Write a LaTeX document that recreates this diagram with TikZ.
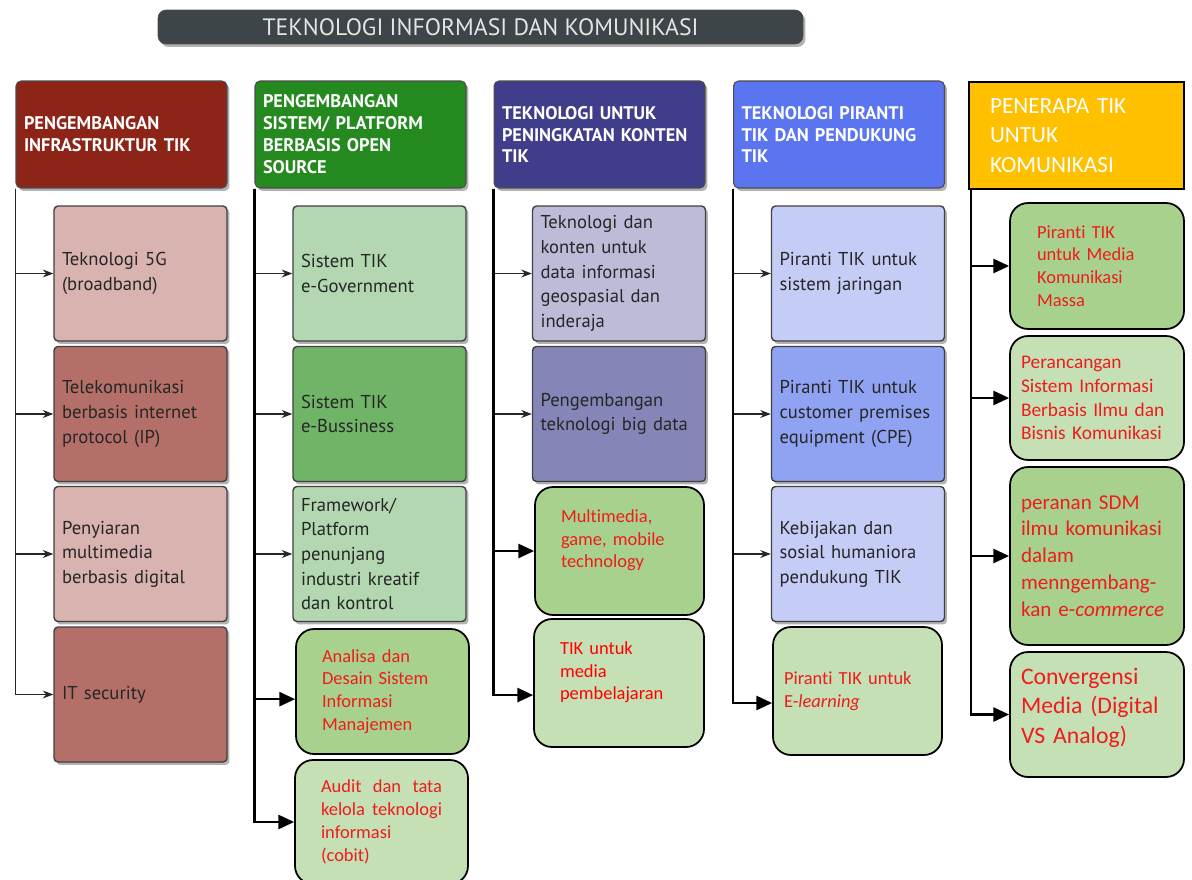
\documentclass[tikz,border=0pt]{standalone}
\usepackage{fontspec}
\setmainfont{PT Sans}
\newfontfamily\calfont[Ligatures=NoCommon]{Carlito}
\usepackage{tikz}
\usetikzlibrary{arrows.meta, shadows}

\definecolor{titlegray}{HTML}{3D4548}
\definecolor{headred}{HTML}{8C2518}
\definecolor{headgreen}{HTML}{24891E}
\definecolor{headindigo}{HTML}{403E8A}
\definecolor{headblue}{HTML}{5A75EF}
\definecolor{headgold}{HTML}{FFC000}
\definecolor{redlight}{HTML}{D8B3B0}
\definecolor{reddark}{HTML}{B47068}
\definecolor{greenlight}{HTML}{B3D7B0}
\definecolor{greendark}{HTML}{70B467}
\definecolor{indigolight}{HTML}{BCBCD9}
\definecolor{indigodark}{HTML}{8585B8}
\definecolor{bluelight}{HTML}{C5CCF6}
\definecolor{bluedark}{HTML}{90A2F2}
\definecolor{notedark}{HTML}{A9D18E}
\definecolor{notelight}{HTML}{C5E0B4}
\definecolor{notetext}{HTML}{EE1C1C}

\begin{document}
\begin{tikzpicture}[x=0.02cm, y=-0.02cm,
    banner/.style={rounded corners=0.16cm, draw=black!70, fill=titlegray, minimum width=12.9cm, minimum height=0.68cm,
      text=white!90!black, font=\fontsize{13.5}{15}\selectfont,
      drop shadow={shadow xshift=0.05cm, shadow yshift=-0.06cm, opacity=0.3, fill=black}},
    head/.style={rounded corners=0.1cm, draw=black!70, line width=0.6pt, minimum width=4.22cm, minimum height=2.14cm,
      text width=3.9cm, inner xsep=0.16cm, align=left, text=white, font=\bfseries\fontsize{10.4}{12.5}\selectfont,
      drop shadow={shadow xshift=0.05cm, shadow yshift=-0.06cm, opacity=0.3, fill=black}},
    item/.style={rounded corners=0.08cm, draw=black!75, line width=0.8pt, minimum width=3.46cm, minimum height=2.7cm,
      text width=3.14cm, inner xsep=0.16cm, inner ysep=1pt, align=left, text=black!85, font=\fontsize{10.6}{14}\selectfont,
      drop shadow={shadow xshift=0.05cm, shadow yshift=-0.06cm, opacity=0.3, fill=black}},
    note/.style={rounded corners=0.36cm, draw=black, line width=1pt, inner ysep=1pt, align=left, text=notetext,
      font=\calfont\fontsize{10.5}{13}\selectfont},
    link/.style={draw=black!85, line width=0.8pt, -{Stealth[length=6pt,width=4.5pt]}},
    bigarrow/.style={draw=black, line width=1.4pt, -{Triangle[length=9pt,width=8pt]}}]

\useasboundingbox (0,0) rectangle (1192,879);

\node (title) [banner] at (480.5,27) {TEKNOLOGI INFORMASI DAN KOMUNIKASI};

\node (h1) [head, fill=headred] at (121.5,134.5) {PENGEMBANGAN\\INFRASTRUKTUR TIK};
\node (h2) [head, fill=headgreen] at (360.5,134.5) {PENGEMBANGAN\\SISTEM/ PLATFORM\\BERBASIS OPEN\\SOURCE};
\node (h3) [head, fill=headindigo] at (599.5,134.5) {TEKNOLOGI UNTUK\\PENINGKATAN KONTEN\\TIK};
\node (h4) [head, fill=headblue] at (839,134.5) {TEKNOLOGI PIRANTI\\TIK DAN PENDUKUNG\\TIK};
\node (h5) [draw=black, line width=1.1pt, fill=headgold, minimum width=4.3cm, minimum height=2.14cm, text width=3.46cm,
  inner xsep=0.42cm, align=left, text=white, font=\calfont\fontsize{13.2}{16.8}\selectfont] at (1076.5,135.5)
  {PENERAPA TIK\\UNTUK\\KOMUNIKASI};

\node (c11) [item, fill=redlight] at (140.5,273.5) {Teknologi 5G\\(broadband)};
\node (c12) [item, fill=reddark] at (140.5,414) {Telekomunikasi\\berbasis internet\\protocol (IP)};
\node (c13) [item, fill=redlight] at (140.5,554) {Penyiaran\\multimedia\\berbasis digital};
\node (c14) [item, fill=reddark] at (140.5,694.5) {IT security};

\node (c21) [item, fill=greenlight] at (379.5,273.5) {Sistem TIK\\e-Government};
\node (c22) [item, fill=greendark] at (379.5,414) {Sistem TIK\\e-Bussiness};
\node (c23) [item, fill=greenlight] at (379.5,554) {Framework/\\Platform\\penunjang\\industri kreatif\\dan kontrol};
\node (n21) [note, fill=notedark, minimum width=3.46cm, minimum height=2.5cm, text width=2.42cm, inner xsep=0.52cm]
  at (382.5,691.5) {Analisa dan\\Desain Sistem\\Informasi\\Manajemen};
\node (n22) [note, fill=notelight, minimum width=3.46cm, minimum height=2.48cm, text width=2.42cm, inner xsep=0.52cm, align=justify]
  at (381.5,822) {Audit dan tata kelola teknologi informasi\\(cobit)};

\node (c31) [item, fill=indigolight] at (619,273.5) {Teknologi dan\\konten untuk\\data informasi\\geospasial dan\\inderaja};
\node (c32) [item, fill=indigodark] at (619,414) {Pengembangan\\teknologi big data};
\node (n31) [note, fill=notedark, minimum width=3.38cm, minimum height=2.56cm, text width=2.34cm, inner xsep=0.52cm, text depth=40pt]
  at (619.5,551) {Multimedia,\\game, mobile\\technology};
\node (n32) [note, fill=notelight, minimum width=3.4cm, minimum height=2.56cm, text width=2.36cm, inner xsep=0.52cm, text depth=40pt,
  text=red] at (619,683) {TIK untuk\\media\\pembelajaran};

\node (c41) [item, fill=bluelight] at (858,273.5) {Piranti TIK untuk\\sistem jaringan};
\node (c42) [item, fill=bluedark] at (858,414) {Piranti TIK untuk\\customer premises\\equipment (CPE)};
\node (c43) [item, fill=bluelight] at (858,554) {Kebijakan dan\\sosial humaniora\\pendukung TIK};
\node (n41) [note, fill=notelight, minimum width=3.38cm, minimum height=2.56cm, text width=2.94cm, inner xsep=0.22cm]
  at (857.5,691) {Piranti TIK untuk\\E-\textit{learning}};

\node (n51) [note, fill=notedark, minimum width=3.48cm, minimum height=2.52cm, text width=2.4cm, inner xsep=0.54cm]
  at (1097,266) {Piranti TIK\\untuk Media\\Komunikasi\\Massa};
\node (n52) [note, fill=notelight, minimum width=3.48cm, minimum height=2.48cm, text width=3.04cm, inner xsep=0.22cm,
  font=\calfont\fontsize{11}{13.6}\selectfont] at (1097,398) {Perancangan\\Sistem Informasi\\Berbasis Ilmu dan\\Bisnis Komunikasi};
\node (n53) [note, fill=notedark, minimum width=3.48cm, minimum height=3.56cm, text width=3.04cm, inner xsep=0.22cm,
  font=\calfont\fontsize{12}{15.3}\selectfont] at (1097,556) {peranan SDM\\ilmu komunikasi\\dalam\\menngembang-\\kan e-\textit{commerce}};
\node (n54) [note, fill=notelight, minimum width=3.48cm, minimum height=2.5cm, text width=3.04cm, inner xsep=0.22cm,
  font=\calfont\fontsize{13.5}{16.8}\selectfont, text depth=44pt] at (1097,714.5) {Convergensi\\Media (Digital\\VS Analog)};

\draw[link] (h1.south west) |- (c11.west);
\draw[link] (h1.south west) |- (c12.west);
\draw[link] (h1.south west) |- (c13.west);
\draw[link] (h1.south west) |- (c14.west);

\draw[link] (h2.south west) |- (c21.west);
\draw[link] (h2.south west) |- (c22.west);
\draw[link] (h2.south west) |- (c23.west);
\draw[bigarrow] (h2.south west) |- (n21.185);
\draw[bigarrow] (h2.south west) |- (n22.west);

\draw[link] (h3.south west) |- (c31.west);
\draw[link] (h3.south west) |- (c32.west);
\draw[bigarrow] (h3.south west) |- (n31.west);
\draw[bigarrow] (h3.south west) |- (n32.188);

\draw[link] (h4.south west) |- (c41.west);
\draw[link] (h4.south west) |- (c42.west);
\draw[link] (h4.south west) |- (c43.west);
\draw[bigarrow] (h4.south west) |- (n41.188);

\draw[bigarrow] ([xshift=0.06cm]h5.south west) |- (n51.west);
\draw[bigarrow] ([xshift=0.06cm]h5.south west) |- (n52.west);
\draw[bigarrow] ([xshift=0.06cm]h5.south west) |- (n53.west);
\draw[bigarrow] ([xshift=0.06cm]h5.south west) |- (n54.west);
\end{tikzpicture}
\end{document}
